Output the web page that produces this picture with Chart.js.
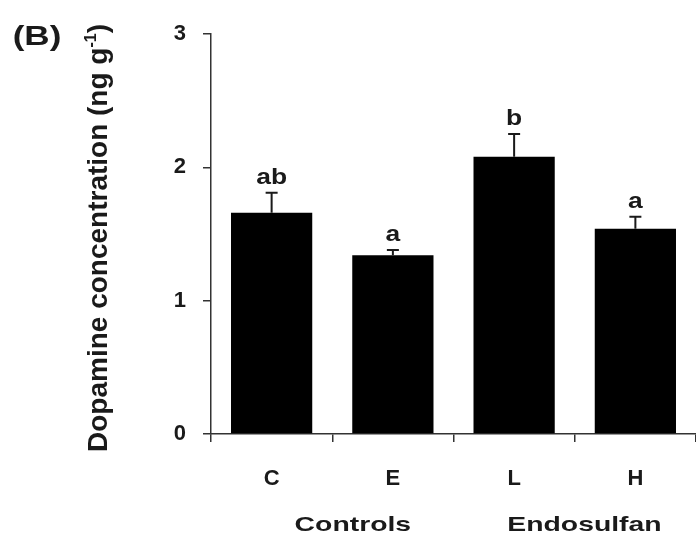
<!DOCTYPE html>
<html>
<head>
<meta charset="utf-8">
<script src="https://cdn.jsdelivr.net/npm/chart.js@4/dist/chart.umd.min.js"></script>
<style>
html,body{margin:0;padding:0;background:#fff;}
#wrap{width:696px;height:541px;position:relative;}
</style>
</head>
<body>
<div id="wrap"><canvas id="c" width="696" height="541"></canvas></div>
<script>
const categories = ['C', 'E', 'L', 'H'];
const means = [1.66, 1.34, 2.08, 1.54];
const errors = [0.15, 0.04, 0.17, 0.09];
const letters = ['ab', 'a', 'b', 'a'];
const groups = ['Controls', 'Endosulfan'];
const groupPos = [0.67, 2.58]; // position along the category axis
const yTicks = [0, 1, 2, 3];
const yTitle = 'Dopamine concentration (ng g';
const panelLabel = '(B)';

const FONT = 'Liberation Sans, Arial, sans-serif';
const INK = '#1a1a1a';

function wideText(ctx, text, cx, cy, stretch) {
  ctx.save();
  ctx.translate(cx, cy);
  ctx.scale(stretch, 1);
  ctx.textAlign = 'center';
  ctx.fillText(text, 0, 0);
  ctx.restore();
}

const extras = {
  id: 'extras',
  afterDatasetsDraw(chart) {
    const ctx = chart.ctx;
    const x = chart.scales.x, y = chart.scales.y;
    const meta = chart.getDatasetMeta(0);
    ctx.save();
    ctx.strokeStyle = INK;
    ctx.lineWidth = 2;
    ctx.fillStyle = INK;
    ctx.font = 'bold 22px ' + FONT;
    ctx.textBaseline = 'alphabetic';
    meta.data.forEach((bar, i) => {
      const cx = bar.x;
      const top = y.getPixelForValue(means[i]);
      const et = y.getPixelForValue(means[i] + errors[i]);
      ctx.beginPath();
      ctx.moveTo(cx, top);
      ctx.lineTo(cx, et);
      ctx.moveTo(cx - 6, et);
      ctx.lineTo(cx + 6, et);
      ctx.stroke();
      wideText(ctx, letters[i], cx, et - 9, 1.2);
    });
    // group labels
    ctx.font = 'bold 21px ' + FONT;
    ctx.textBaseline = 'middle';
    groups.forEach((g, i) => {
      const gx = x.getPixelForValue(groupPos[i]);
      wideText(ctx, g, gx, 525, 1.35);
    });
    // panel label
    ctx.font = 'bold 27px ' + FONT;
    ctx.textBaseline = 'middle';
    wideText(ctx, panelLabel, 37, 38, 1.3);
    // y title
    ctx.save();
    ctx.translate(107, 238);
    ctx.rotate(-Math.PI / 2);
    ctx.textBaseline = 'alphabetic';
    const sup = '-1';
    const tail = ')';
    ctx.font = 'bold 28px ' + FONT;
    const w1 = ctx.measureText(yTitle).width;
    const w3 = ctx.measureText(tail).width;
    ctx.font = 'bold 16px ' + FONT;
    const w2 = ctx.measureText(sup).width;
    const sx = -(w1 + w2 + w3) / 2;
    ctx.textAlign = 'left';
    ctx.font = 'bold 28px ' + FONT;
    ctx.fillText(yTitle, sx, 0);
    ctx.fillText(tail, sx + w1 + w2, 0);
    ctx.font = 'bold 16px ' + FONT;
    ctx.fillText(sup, sx + w1, -11);
    ctx.restore();
    ctx.restore();
  }
};

new Chart(document.getElementById('c'), {
  type: 'bar',
  data: {
    labels: categories,
    datasets: [{
      data: means,
      backgroundColor: '#000',
      borderWidth: 0,
      barPercentage: 0.67,
      categoryPercentage: 1.0
    }]
  },
  options: {
    responsive: false,
    animation: false,
    events: [],
    layout: {padding: {left: 0, right: 0, top: 34, bottom: 0}},
    plugins: {legend: {display: false}, tooltip: {enabled: false}},
    scales: {
      y: {
        min: 0, max: 3,
        afterFit(s) { s.width = 211; },
        afterBuildTicks(s) { s.ticks = yTicks.map(v => ({value: v})); },
        border: {display: true, color: '#333', width: 1.5},
        grid: {drawOnChartArea: false, drawTicks: true, tickLength: 8, color: '#333', lineWidth: 1.5},
        ticks: {color: INK, font: {family: FONT, size: 22, weight: 'bold'}, padding: 17}
      },
      x: {
        afterFit(s) { s.height = 107; },
        border: {display: true, color: '#333', width: 1.5},
        grid: {drawOnChartArea: false, drawTicks: true, tickLength: 8, color: '#333', lineWidth: 1.5, offset: true},
        ticks: {color: INK, font: {family: FONT, size: 22, weight: 'bold'}, padding: 24}
      }
    }
  },
  plugins: [extras]
});
</script>
</body>
</html>
